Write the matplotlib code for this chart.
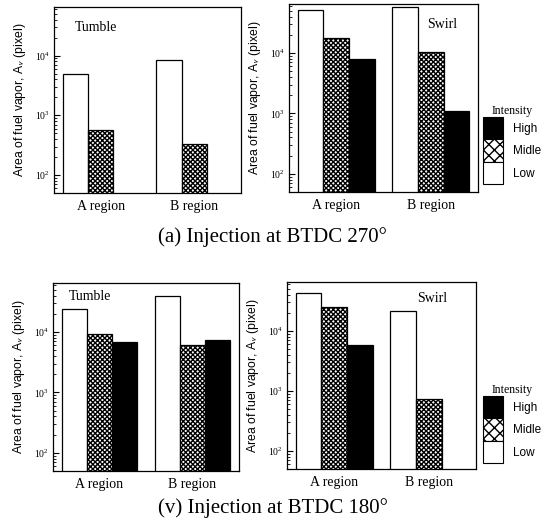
import numpy as np
import matplotlib
matplotlib.use('Agg')
import matplotlib.pyplot as plt
from matplotlib.patches import Patch

plt.rcParams['font.family'] = 'Liberation Serif'
plt.rcParams['mathtext.fontset'] = 'stix'
plt.rcParams['hatch.linewidth'] = 1.0

# data (area of fuel vapor in pixels)
regions = ['A region', 'B region']
levels = ['Low', 'Midle', 'High']

tumble_270_low = [5000, 8500]
tumble_270_mid = [560, 330]
tumble_270_high = [np.nan, np.nan]

swirl_270_low = [52000, 59000]
swirl_270_mid = [17800, 10400]
swirl_270_high = [7900, 1080]

tumble_180_low = [24000, 40000]
tumble_180_mid = [9300, 6000]
tumble_180_high = [6800, 7300]

swirl_180_low = [43000, 21000]
swirl_180_mid = [25000, 740]
swirl_180_high = [5800, np.nan]

W, H = 545, 524
fig = plt.figure(figsize=(W / 100, H / 100), dpi=100)


def px_axes(x0, y0, x1, y1):
    return fig.add_axes([x0 / W, 1 - y1 / H, (x1 - x0) / W, (y1 - y0) / H])


styles = [dict(facecolor='white', hatch=None),
          dict(facecolor='white', hatch='xxxxxxx'),
          dict(facecolor='black', hatch=None)]
bw = 0.27


def draw_panel(ax, series, name, name_xy, name_ha):
    x = np.arange(len(regions))
    for i, vals in enumerate(series):
        vals = np.asarray(vals, dtype=float)
        ok = ~np.isnan(vals)
        ax.bar(x[ok] + (i - 1) * bw, vals[ok], bw, edgecolor='black',
               linewidth=0.9, **styles[i])
    ax.set_yscale('log')
    ax.set_ylim(50, 65000)
    ax.set_xlim(-0.5, 1.5)
    ax.set_xticks(x)
    ax.set_xticklabels(regions, fontsize=10)
    ax.tick_params(axis='x', length=0, pad=5)
    ax.tick_params(axis='y', which='both', direction='in', labelsize=7, pad=3)
    ax.tick_params(axis='y', which='major', length=4)
    ax.tick_params(axis='y', which='minor', length=2)
    for s in ax.spines.values():
        s.set_linewidth(0.9)
    ax.set_ylabel('Area of fuel vapor, A$_{\\mathsf{v}}$ (pixel)',
                  family='Liberation Sans', fontsize=8.8)
    ax.yaxis.set_label_coords(-0.14, 0.5)
    ax.text(name_xy[0], name_xy[1], name, transform=ax.transAxes,
            ha=name_ha, va='center', fontsize=10)


ax1 = px_axes(54, 7, 241, 193)
draw_panel(ax1, [tumble_270_low, tumble_270_mid, tumble_270_high],
           'Tumble', (0.11, 0.89), 'left')
ax2 = px_axes(289, 4, 478, 192)
draw_panel(ax2, [swirl_270_low, swirl_270_mid, swirl_270_high],
           'Swirl', (0.81, 0.89), 'center')
ax3 = px_axes(53, 283, 239, 471)
draw_panel(ax3, [tumble_180_low, tumble_180_mid, tumble_180_high],
           'Tumble', (0.086, 0.93), 'left')
ax4 = px_axes(287, 282, 476, 469)
draw_panel(ax4, [swirl_180_low, swirl_180_mid, swirl_180_high],
           'Swirl', (0.77, 0.91), 'center')

fig.text(0.5, 1 - 237 / H, '(a) Injection at BTDC 270°', ha='center',
         va='center', fontsize=15)
fig.text(0.5, 1 - 508 / H, '(v) Injection at BTDC 180°', ha='center',
         va='center', fontsize=15)

handles = [Patch(facecolor='black', edgecolor='black', linewidth=0.8),
           Patch(facecolor='white', edgecolor='black', hatch='xxx', linewidth=0.8),
           Patch(facecolor='white', edgecolor='black', linewidth=0.8)]
labels = ['High', 'Midle', 'Low']
for top in (105, 384):
    leg = fig.legend(handles, labels, title='Intensity', loc='upper left',
                     bbox_to_anchor=(483 / W, 1 - top / H), frameon=False,
                     prop={'family': 'Liberation Sans', 'size': 8.5},
                     title_fontsize=8.5, handlelength=1.7, handleheight=2.55,
                     labelspacing=0, handletextpad=0.8, borderpad=0,
                     borderaxespad=0)
    leg.get_title().set_family('Liberation Serif')

fig.savefig('out.png', dpi=100)
